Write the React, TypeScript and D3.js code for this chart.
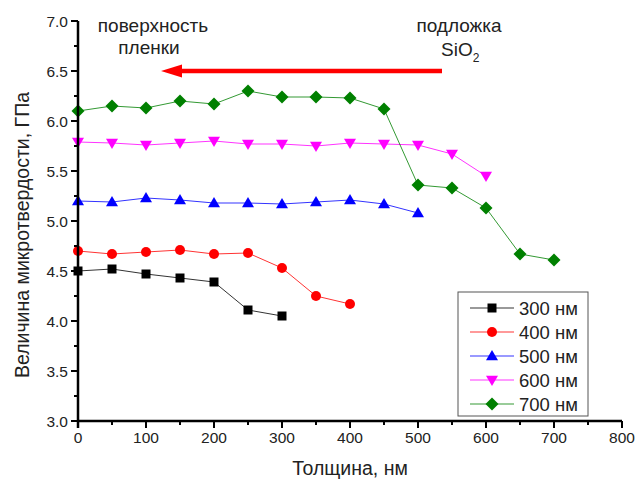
import React from "react";
import * as d3 from "d3";

const thickness300 = [0, 50, 100, 150, 200, 250, 300];
const hardness300 = [4.5, 4.52, 4.47, 4.43, 4.39, 4.11, 4.05];
const thickness400 = [0, 50, 100, 150, 200, 250, 300, 350, 400];
const hardness400 = [4.7, 4.67, 4.69, 4.71, 4.67, 4.68, 4.53, 4.25, 4.17];
const thickness500 = [0, 50, 100, 150, 200, 250, 300, 350, 400, 450, 500];
const hardness500 = [5.2, 5.19, 5.23, 5.21, 5.18, 5.18, 5.17, 5.19, 5.21, 5.17, 5.08];
const thickness600 = [0, 50, 100, 150, 200, 250, 300, 350, 400, 450, 500, 550, 600];
const hardness600 = [5.79, 5.78, 5.76, 5.78, 5.8, 5.77, 5.77, 5.75, 5.78, 5.77, 5.76, 5.67, 5.45];
const thickness700 = [0, 50, 100, 150, 200, 250, 300, 350, 400, 450, 500, 550, 600, 650, 700];
const hardness700 = [6.1, 6.15, 6.13, 6.2, 6.17, 6.3, 6.24, 6.24, 6.23, 6.12, 5.36, 5.33, 5.13, 4.67, 4.61];

const seriesNames = ["300 нм", "400 нм", "500 нм", "600 нм", "700 нм"];
const seriesColors = ["#000000", "#ff0000", "#0000ff", "#ff00ff", "#008000"];
const seriesShapes = ["square", "circle", "triangleUp", "triangleDown", "diamond"];

const xTicks = [0, 100, 200, 300, 400, 500, 600, 700, 800];
const xMinor = [50, 150, 250, 350, 450, 550, 650, 750];
const yTicks = [3.0, 3.5, 4.0, 4.5, 5.0, 5.5, 6.0, 6.5, 7.0];
const yMinor = [3.25, 3.75, 4.25, 4.75, 5.25, 5.75, 6.25, 6.75];

const xTitle = "Толщина, нм";
const yTitle = "Величина микротвердости, ГПа";
const annotSurface = ["поверхность", "пленки"];
const annotSubstrate = "подложка";

const FONT = "'Liberation Sans', Arial, sans-serif";

function markerPath(shape: string): string {
  switch (shape) {
    case "square":
      return "M-4.5,-4.5H4.5V4.5H-4.5Z";
    case "circle":
      return "M5,0A5,5 0 1,1 -5,0A5,5 0 1,1 5,0Z";
    case "triangleUp":
      return "M0,-6L6,4.2L-6,4.2Z";
    case "triangleDown":
      return "M0,6L6,-4.2L-6,-4.2Z";
    case "diamond":
      return "M0,-6.5L6.5,0L0,6.5L-6.5,0Z";
  }
  return "";
}

export default function App() {
  const x = d3.scaleLinear().domain([0, 800]).range([78, 622]);
  const y = d3.scaleLinear().domain([3, 7]).range([421, 21]);

  const series = [
    { xs: thickness300, ys: hardness300 },
    { xs: thickness400, ys: hardness400 },
    { xs: thickness500, ys: hardness500 },
    { xs: thickness600, ys: hardness600 },
    { xs: thickness700, ys: hardness700 },
  ];

  const line = d3
    .line<[number, number]>()
    .x((d) => x(d[0]))
    .y((d) => y(d[1]));

  const legendX = 458;
  const legendY = 292;
  const legendRow = 24;

  return (
    <svg
      width={637}
      height={480}
      style={{ position: "absolute", left: 0, top: 0, background: "#fff" }}
      fontFamily={FONT}
    >
      <rect x={0} y={0} width={637} height={480} fill="#fff" />
      {/* series */}
      {series.map((s, i) => {
        const pts: [number, number][] = s.xs.map((v, j) => [v, s.ys[j]]);
        return (
          <g key={i}>
            <path d={line(pts) || ""} fill="none" stroke={seriesColors[i]} strokeWidth={1} strokeOpacity={0.8} />
            {pts.map((p, j) => (
              <path
                key={j}
                d={markerPath(seriesShapes[i])}
                transform={`translate(${x(p[0])},${y(p[1])})`}
                fill={seriesColors[i]}
              />
            ))}
          </g>
        );
      })}

      {/* axes */}
      <line x1={x(0)} x2={x(800)} y1={y(3)} y2={y(3)} stroke="#000" strokeWidth={2.5} />
      <line x1={x(0)} x2={x(0)} y1={y(7)} y2={y(3) + 7} stroke="#000" strokeWidth={2.5} />
      {xTicks.map((t) => (
        <g key={"xt" + t}>
          <line x1={x(t)} x2={x(t)} y1={y(3)} y2={y(3) + 7} stroke="#000" strokeWidth={2} />
          <text x={x(t)} y={y(3) + 22} textAnchor="middle" fontSize={15.5} fill="#222">
            {t}
          </text>
        </g>
      ))}
      {xMinor.map((t) => (
        <line key={"xm" + t} x1={x(t)} x2={x(t)} y1={y(3)} y2={y(3) + 4} stroke="#000" strokeWidth={2} />
      ))}
      {yTicks.map((t) => (
        <g key={"yt" + t}>
          <line x1={x(0) - 7} x2={x(0)} y1={y(t)} y2={y(t)} stroke="#000" strokeWidth={2} />
          <text x={x(0) - 10} y={y(t) + 5.5} textAnchor="end" fontSize={15.5} fill="#222">
            {t.toFixed(1)}
          </text>
        </g>
      ))}
      {yMinor.map((t) => (
        <line key={"ym" + t} x1={x(0) - 4} x2={x(0)} y1={y(t)} y2={y(t)} stroke="#000" strokeWidth={2} />
      ))}

      {/* axis titles */}
      <text x={350} y={475} textAnchor="middle" fontSize={19.5} fill="#222">
        {xTitle}
      </text>
      <text
        transform={`translate(29,235) rotate(-90)`}
        textAnchor="middle"
        fontSize={19.5}
        fill="#222"
      >
        {yTitle}
      </text>

      {/* annotations */}
      <text x={153} y={32} textAnchor="middle" fontSize={19} fill="#222">
        {annotSurface[0]}
      </text>
      <text x={149} y={54} textAnchor="middle" fontSize={19} fill="#222">
        {annotSurface[1]}
      </text>
      <text x={459} y={32} textAnchor="middle" fontSize={19} fill="#222">
        {annotSubstrate}
      </text>
      <text x={441} y={56} fontSize={19} fill="#222">
        SiO
        <tspan fontSize={12} dy={6}>
          2
        </tspan>
      </text>
      <line x1={442} x2={176} y1={71} y2={71} stroke="#f00" strokeWidth={4.5} />
      <path d="M161,71L182,64.5L182,77.5Z" fill="#f00" />

      {/* legend */}
      <rect x={legendX} y={legendY} width={130} height={124} fill="#fff" stroke="#555" strokeWidth={1} />
      {seriesNames.map((n, i) => {
        const cy = legendY + 16 + i * legendRow;
        return (
          <g key={n}>
            <line x1={470} x2={514} y1={cy} y2={cy} stroke={seriesColors[i]} strokeWidth={1} strokeOpacity={0.8} />
            <path d={markerPath(seriesShapes[i])} transform={`translate(492,${cy})`} fill={seriesColors[i]} />
            <text x={519} y={cy + 6.5} fontSize={18.5} fill="#222">
              {n}
            </text>
          </g>
        );
      })}
    </svg>
  );
}
